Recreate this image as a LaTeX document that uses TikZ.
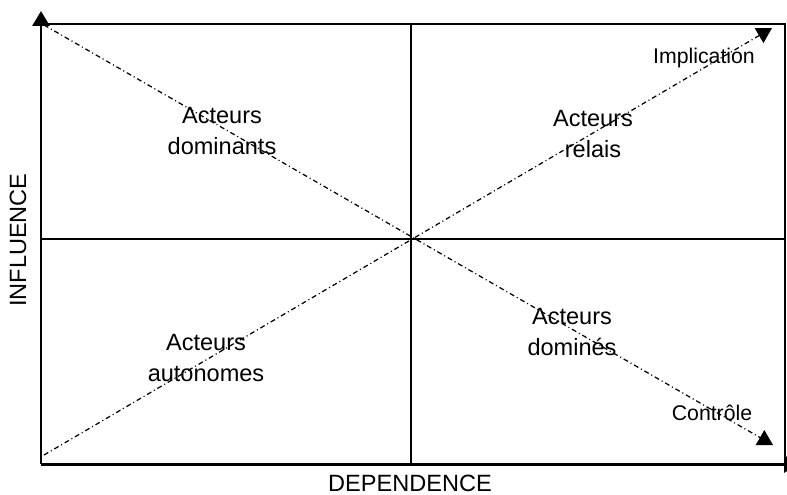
\documentclass[tikz,border=0pt]{standalone}
\usepackage{fontspec}
\setmainfont{Liberation Sans}
\usetikzlibrary{arrows.meta, positioning}

\begin{document}
\begin{tikzpicture}[
  x=0.02cm, y=-0.02cm,
  axis/.style={line width=1.7pt},
  frame/.style={line width=1.3pt},
  split/.style={line width=0.8pt},
  trend/.style={line width=0.7pt, dash pattern=on 2.8pt off 1.7pt on 0.6pt off 1.7pt},
  tip/.style={-{Triangle[width=0.34cm, length=0.3cm]}},
  quadrant/.style={align=center, font=\fontsize{13.4pt}{18.2pt}\selectfont, inner sep=0pt},
  pole/.style={font=\fontsize{12.1pt}{14pt}\selectfont, inner sep=0pt},
  axislabel/.style={font=\fontsize{13.4pt}{16pt}\selectfont, inner sep=0pt},
]
\useasboundingbox (0,0) rectangle (787,494);
\clip (0,0) rectangle (787,494);
\coordinate (O) at (41,464);
\coordinate (TL) at (41,24);
\coordinate (TR) at (785,24);
\coordinate (BR) at (785,464);
\coordinate (Ytip) at (41,11);
\coordinate (Xtip) at (799,464);
\coordinate (C) at (411,239);
\coordinate (Ctop) at (411,24);
\coordinate (Cbot) at (411,464);
\coordinate (Mleft) at (41,239);
\coordinate (Mright) at (785,239);
\coordinate (D1) at (44,25);
\coordinate (D2) at (44,455);
\coordinate (Imp) at (772,28);
\coordinate (Ctr) at (773,445);
\draw[trend, tip] (D1) -- (Ctr);
\draw[trend, tip] (D2) -- (Imp);
\draw[split] (Ctop) -- (Cbot);
\draw[split] (Mleft) -- (Mright);
\draw[frame] (TL) -- (TR) -- (BR);
\draw[axis, tip] (O) -- (Ytip);
\draw[axis, tip] (O) -- (Xtip);
\node[quadrant] (dom) at (222,131) {Acteurs\\dominants};
\node[quadrant] (rel) at (593,134) {Acteurs\\relais};
\node[quadrant] (aut) at (206,358) {Acteurs\\autonomes};
\node[quadrant] (dmn) at (572,332) {Acteurs\\dominés};
\node[pole] (impl) at (704,58) {Implication};
\node[pole] (ctrl) at (712,413) {Contrôle};
\node[axislabel, rotate=90] (infl) at (18,240) {INFLUENCE};
\node[axislabel] (dep) at (410,483) {DEPENDENCE};
\end{tikzpicture}
\end{document}
